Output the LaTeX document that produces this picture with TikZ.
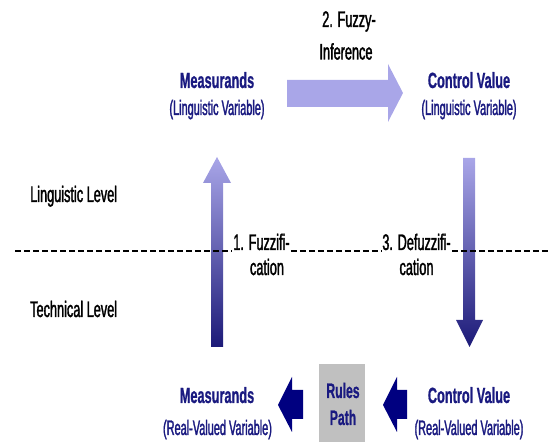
\documentclass[tikz,border=0pt]{standalone}
\usepackage{fontspec}
\setmainfont{Liberation Sans}[FakeStretch=0.565, FakeBold=1.5, BoldFeatures={FakeStretch=0.58, FakeBold=0.8}]
\newfontfamily\subfont{Liberation Sans}[FakeStretch=0.52, FakeBold=1.5]
\definecolor{navy}{HTML}{1A1A80}
\definecolor{arrownavy}{HTML}{000080}
\definecolor{lilac}{HTML}{A9A6E8}
\definecolor{deepviolet}{HTML}{1C1A78}
\definecolor{boxgray}{HTML}{C0C0C0}
\begin{document}
\begin{tikzpicture}[x=1pt,y=-1pt,
  varname/.style={text=navy, font=\bfseries\fontsize{22}{24}\selectfont, inner sep=0pt, anchor=base},
  varsub/.style={text=navy, font=\subfont\fontsize{21}{23}\selectfont, inner sep=0pt, anchor=base},
  steplabel/.style={font=\fontsize{22.5}{24}\selectfont, inner sep=1pt, anchor=base},
  levellabel/.style={font=\fontsize{22.5}{24}\selectfont, anchor=base west, inner sep=0pt},
  levelline/.style={line width=2pt, dash pattern=on 6pt off 3pt},
  rulestext/.style={text=navy, font=\bfseries\fontsize{21}{23}\selectfont, inner sep=0pt, anchor=base},
  flatarrow/.style={fill=arrownavy, draw=none},
  gradarrow/.style={top color=lilac, bottom color=deepviolet, draw=none}]
\useasboundingbox (0,0) rectangle (550,443);

% linguistic level: fuzzy inference
\fill[lilac] (287,80) -- (388,80) -- (388,64) -- (403,93) -- (388,122) -- (388,107) -- (287,107) -- cycle;
\node[steplabel] (infera) at (349,27) {2. Fuzzy-};
\node[steplabel] (inferb) at (346,59.5) {Inference};
\node[varname] (mling) at (217,88) {Measurands};
\node[varsub] (mlingsub) at (217,115) {(Linguistic Variable)};
\node[varname] (cling) at (469,88) {Control Value};
\node[varsub] (clingsub) at (469,115) {(Linguistic Variable)};

% fuzzification (up) and defuzzification (down)
\shade[gradarrow] (211,347) -- (211,183) -- (203,183) -- (217,157) -- (231,183) -- (223,183) -- (223,347) -- cycle;
\shade[gradarrow] (463,158) -- (475,158) -- (475,320) -- (483,320) -- (469.5,347) -- (456,320) -- (463,320) -- cycle;

% level labels and the separating line
\node[levellabel] (lingl) at (30,202) {Linguistic Level};
\node[levellabel] (techl) at (30,317) {Technical Level};
\node[steplabel] (fuzza) at (261.5,250) {1. Fuzzifi-};
\node[steplabel] (fuzzb) at (267,275) {cation};
\node[steplabel] (defuzza) at (416.5,250) {3. Defuzzifi-};
\node[steplabel] (defuzzb) at (416.5,275) {cation};
\coordinate (lineL) at (15,251.5);
\coordinate (lineR) at (550,251.5);
\draw[levelline] (lineL) -- (lineL -| fuzza.west);
\draw[levelline] (lineL -| fuzza.east) -- (lineL -| defuzza.west);
\draw[levelline] (lineL -| defuzza.east) -- (lineR);

% technical level: rules path
\node[fill=boxgray, minimum width=46pt, minimum height=78pt, inner sep=0pt] (rules) at (342,403) {};
\node[rulestext] (rulesa) at (343,398) {Rules};
\node[rulestext] (rulesb) at (343,425) {Path};
\fill[flatarrow] (278,405) -- (292,377) -- (292,390) -- (303,390) -- (303,419) -- (292,419) -- (292,432) -- cycle;
\fill[flatarrow] (383,405) -- (397,377) -- (397,390) -- (407,390) -- (407,419) -- (397,419) -- (397,432) -- cycle;
\node[varname] (mtech) at (217,403) {Measurands};
\node[varsub] (mtechsub) at (217.5,435) {(Real-Valued Variable)};
\node[varname] (ctech) at (469,403) {Control Value};
\node[varsub] (ctechsub) at (469,435) {(Real-Valued Variable)};
\end{tikzpicture}
\end{document}
